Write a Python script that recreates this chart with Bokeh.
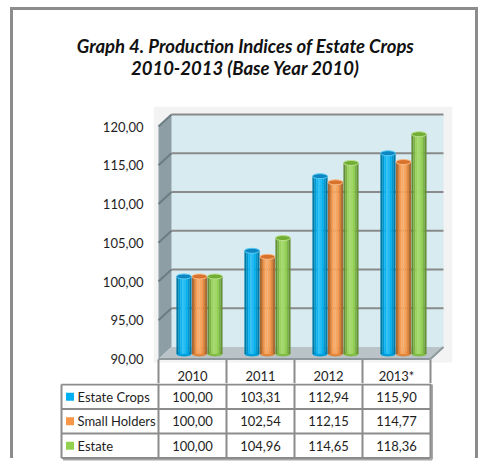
from bokeh.plotting import figure
from bokeh.models import Range1d, FixedTicker
from bokeh.layouts import column
from bokeh.embed import file_html
from bokeh.resources import INLINE
from bokeh.core.properties import value

# ---------------- data ----------------
years = ["2010", "2011", "2012", "2013*"]
series_names = ["Estate Crops", "Small Holders", "Estate"]
estate_crops = [100.00, 103.31, 112.94, 115.90]
small_holders = [100.00, 102.54, 112.15, 114.77]
estate = [100.00, 104.96, 114.65, 118.36]
y_ticks = [90, 95, 100, 105, 110, 115, 120]
colors = ["#00B0F0", "#F79646", "#92D050"]
top_colors = ["#0E86C2", "#D8722C", "#72AE34"]
title_lines = ["Graph 4. Production Indices of Estate Crops",
               "2010-2013 (Base Year 2010)"]

series = [estate_crops, small_holders, estate]
FONT = "Lato"
TXT = "#1e1e1e"
LINE = "#8c8c8c"


def fmt(v):
    return f"{v:.2f}".replace(".", ",")


def shade(hexcol, f):
    r, g, b = (int(hexcol[i:i + 2], 16) for i in (1, 3, 5))
    if f >= 0:
        r, g, b = (c + (255 - c) * f for c in (r, g, b))
    else:
        r, g, b = (c * (1 + f) for c in (r, g, b))
    return "#%02x%02x%02x" % (int(round(r)), int(round(g)), int(round(b)))


def bare(p):
    p.outline_line_color = None
    p.xgrid.visible = False
    p.ygrid.visible = False
    p.background_fill_color = "white"
    p.border_fill_color = "white"
    p.frame_align = False


# ---------------- layout constants (pixels) ----------------
PX_X = 68.0      # px per category
PX_Y = 7.75      # px per index unit
W = 462          # inner width (image x 13..475)
TOP = 10         # image y of first figure
HC = 90          # title figure   (image 10..100)
HA = 283         # chart figure   (image 100..383)
HB = 78          # table figure   (image 383..461)
LEFT_IMG = 13
FL, FR, FT = 140, 439, 6           # frame left / right / top in chart figure
ORIGIN_X = 158                     # image x of category 0 (front)
Y90 = 358.5                        # image y of value 90 (front)
n = len(years)
nr = len(series)
dxu, dyu = 13 / PX_X, 12 / PX_Y    # 3D depth
mdx, mdy = 7 / PX_X, 5 / PX_Y      # mid-depth (bars)


def vy(img_y):   # image y -> index value (front plane)
    return y_ticks[0] - (img_y - Y90) / PX_Y


def ux(img_x):   # image x -> category units
    return (img_x - ORIGIN_X) / PX_X


# ---------------- title figure ----------------
pC = figure(width=W, height=HC, output_backend="svg", toolbar_location=None,
            x_range=Range1d(0, W), y_range=Range1d(HC, 0),
            x_axis_location=None, y_axis_location=None,
            min_border_left=0, min_border_right=0, min_border_top=0, min_border_bottom=0)
bare(pC)
pC.text(x=[245 - LEFT_IMG] * 2, y=[45 - TOP, 67 - TOP], text=title_lines,
        text_font=value(FONT), text_font_style="bold italic", text_font_size="18.5px",
        text_color="#111111", text_align="center", text_baseline="middle")

# ---------------- chart figure ----------------
y_bot = vy(TOP + HC + HA)
x0 = ux(LEFT_IMG + FL)
pA = figure(width=W, height=HA, output_backend="svg", toolbar_location=None,
            x_range=Range1d(x0, x0 + (FR - FL) / PX_X),
            y_range=Range1d(y_bot, y_bot + (HA - FT) / PX_Y),
            x_axis_location=None,
            min_border_left=FL, min_border_right=W - FR,
            min_border_top=FT, min_border_bottom=0)
bare(pA)

ax = pA.yaxis[0]
ax.ticker = FixedTicker(ticks=y_ticks)
ax.major_label_overrides = {t: fmt(t) for t in y_ticks}
ax.axis_line_color = None
ax.major_tick_line_color = None
ax.minor_tick_line_color = None
ax.major_tick_out = 0
ax.major_tick_in = 0
ax.major_label_standoff = 10
ax.major_label_text_font = FONT
ax.major_label_text_font_size = "13px"
ax.major_label_text_color = TXT

ylo, yhi = y_ticks[0], y_ticks[-1]
xr0, xr1 = pA.x_range.start, pA.x_range.end
# light gray plot area
pA.quad(left=xr0, right=xr1, bottom=vy(362), top=pA.y_range.end,
        fill_color="#f3f3f3", line_color=None)
# back wall
pA.quad(left=dxu, right=n + dxu, bottom=ylo + dyu, top=yhi + dyu,
        fill_color="#d7ebf1", line_color=None)
# left wall
pA.patch([0, dxu, dxu, 0], [ylo, ylo + dyu, yhi + dyu, yhi],
         fill_color="#8d9ea5", line_color=None)
# gridlines
g = y_ticks[1:]
pA.segment(x0=[dxu] * len(g), y0=[t + dyu for t in g],
           x1=[n + dxu] * len(g), y1=[t + dyu for t in g],
           line_color="#8a8a8a", line_width=2)
pA.segment(x0=[0] * len(g), y0=g, x1=[dxu] * len(g), y1=[t + dyu for t in g],
           line_color="#6c7c83", line_width=2)
# floor
pA.patch([0, n, n + dxu, dxu], [ylo, ylo, ylo + dyu, ylo + dyu],
         fill_color="#bac4c8", line_color=None)
pA.segment(x0=[0], y0=[ylo], x1=[n], y1=[ylo], line_color="#8f999d", line_width=2)
pA.segment(x0=[n], y0=[ylo], x1=[n + dxu], y1=[ylo + dyu], line_color="#8f999d", line_width=2)

# cylinders
profile = [-0.32, -0.14, 0.06, 0.20, 0.14, 0.0, -0.14, -0.30]
NP = len(profile)
bar_w = 15 / PX_X
offsets = [-15.5 / PX_X, 0.0, 15.5 / PX_X]
ell_h = 5 / PX_Y
for si, (vals, col, tcol) in enumerate(zip(series, colors, top_colors)):
    xc = [i + 0.5 + mdx + offsets[si] for i in range(n)]
    tops = [v + mdy for v in vals]
    pA.ellipse(x=xc, y=[ylo + mdy] * n, width=bar_w, height=ell_h,
               fill_color=shade(col, -0.1), line_color=None)
    for k, f in enumerate(profile):
        xk = [c - bar_w / 2 + (k + 0.5) * bar_w / NP for c in xc]
        pA.vbar(x=xk, width=bar_w / NP * 1.08, bottom=ylo + mdy, top=tops,
                fill_color=shade(col, f), line_color=None)
    pA.ellipse(x=xc, y=tops, width=bar_w, height=ell_h,
               fill_color=tcol, line_color=shade(col, 0.35), line_width=1)

# table header row (inside chart figure, below the floor)
vx = list(range(0, n + 1))
pA.segment(x0=vx, y0=[vy(359)] * len(vx), x1=vx, y1=[y_bot] * len(vx),
           line_color=LINE, line_width=2)
pA.text(x=[i + 0.5 for i in range(n)], y=[vy(375.5)] * n, text=years,
        text_font=value(FONT), text_font_size="13px", text_color=TXT,
        text_align="center", text_baseline="middle")

# ---------------- table figure ----------------
RH = 24.5
top_r = 1 - 1.0 / RH
xb0 = ux(LEFT_IMG)
pB = figure(width=W, height=HB, output_backend="svg", toolbar_location=None,
            x_range=Range1d(xb0, xb0 + W / PX_X),
            y_range=Range1d(top_r + HB / RH, top_r),
            x_axis_location=None, y_axis_location=None,
            min_border_left=0, min_border_right=0, min_border_top=0, min_border_bottom=0)
bare(pB)

lab_left = ux(61)
# shadow on right / bottom
sh = 1.5 / PX_X
pB.segment(x0=[n + sh], y0=[1], x1=[n + sh], y1=[nr + 1 + 1.5 / RH], line_color="#a8a8a8", line_width=2)
pB.segment(x0=[lab_left + sh], y0=[nr + 1 + 1.5 / RH], x1=[n + sh], y1=[nr + 1 + 1.5 / RH],
           line_color="#a8a8a8", line_width=2)
# horizontal lines
hy = list(range(1, nr + 2))
pB.segment(x0=[lab_left] * len(hy), y0=hy, x1=[n] * len(hy), y1=hy,
           line_color=LINE, line_width=2)
# vertical lines
pB.segment(x0=vx, y0=[top_r] * len(vx), x1=vx, y1=[nr + 1] * len(vx),
           line_color=LINE, line_width=2)
pB.segment(x0=[lab_left], y0=[1], x1=[lab_left], y1=[nr + 1],
           line_color=LINE, line_width=2)

# legend squares + names
pB.scatter(x=[ux(69.5)] * nr, y=[r + 1.5 for r in range(nr)],
           marker="square", size=8, fill_color=colors, line_color=None)
pB.text(x=[ux(77)] * nr, y=[r + 1.5 for r in range(nr)], text=series_names,
        text_font=value(FONT), text_font_size="13px", text_color=TXT,
        text_align="left", text_baseline="middle")
# values
for r, vals in enumerate(series):
    pB.text(x=[i + 0.5 for i in range(n)], y=[r + 1.5] * n, text=[fmt(v) for v in vals],
            text_font=value(FONT), text_font_size="13px", text_color=TXT,
            text_align="center", text_baseline="middle")

layout = column(pC, pA, pB, spacing=0,
                styles={"box-shadow": "-3px -3px 0 0 #8c8c8c, 3px -3px 0 0 #8c8c8c",
                        "margin-left": "13px", "margin-top": "10px"})

open("out.html", "w").write(file_html(layout, INLINE))
